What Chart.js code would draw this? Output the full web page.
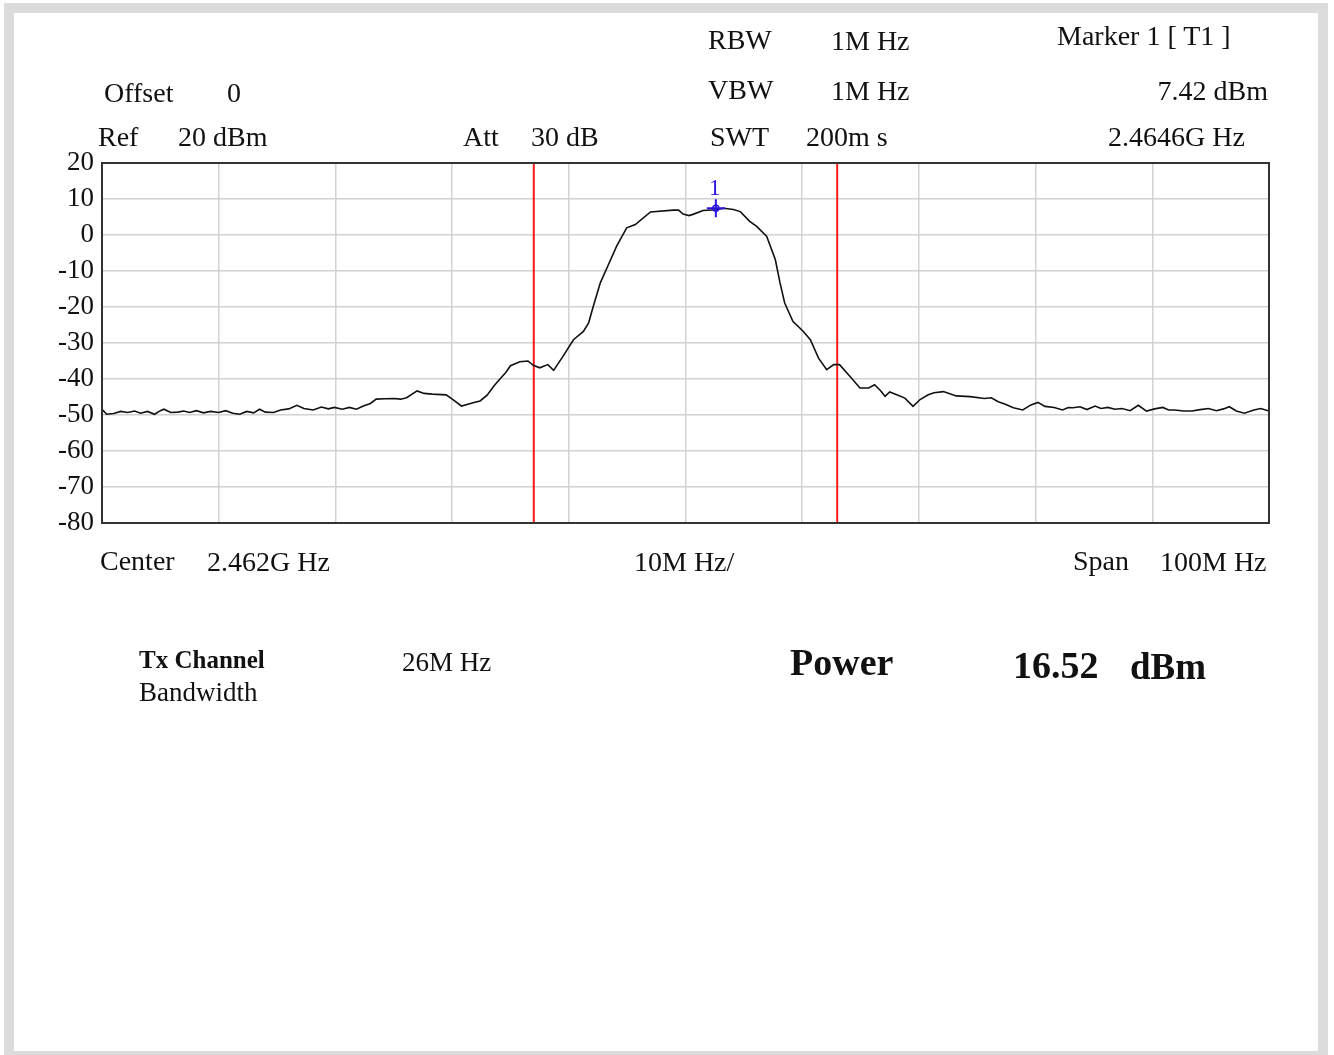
<!DOCTYPE html>
<html>
<head>
<meta charset="utf-8">
<script src="https://cdn.jsdelivr.net/npm/chart.js@4/dist/chart.umd.min.js"></script>
<style>
    html, body { margin: 0; padding: 0; background: #fff; }
    #page { position: relative; width: 1334px; height: 1055px; overflow: hidden; }
    #frame { position: absolute; left: 4px; top: 3px; width: 1304px; height: 1038px; border: 10px solid #dcdcdc; border-bottom-width: 12px; background: #fff; }
    #chartBox { position: absolute; left: 0; top: 0; width: 1334px; height: 1055px; }
    .t { position: absolute; font-family: "Liberation Serif", "Times New Roman", serif; font-size: 28px; color: #111; white-space: nowrap; line-height: 1; }
    .b { font-weight: bold; }
</style>
</head>
<body>
<div id="page">
    <div id="frame"></div>
    <div id="chartBox"><canvas id="spectrum" width="1334" height="1055"></canvas></div>

    <div class="t" style="left:104px; top:79px;">Offset</div>
    <div class="t" style="left:227px; top:79px;">0</div>
    <div class="t" style="left:98px; top:123px;">Ref</div>
    <div class="t" style="left:178px; top:123px;">20 dBm</div>
    <div class="t" style="left:463px; top:123px;">Att</div>
    <div class="t" style="left:531px; top:123px;">30 dB</div>
    <div class="t" style="left:708px; top:26px;">RBW</div>
    <div class="t" style="left:831px; top:27px;">1M Hz</div>
    <div class="t" style="left:708px; top:76px;">VBW</div>
    <div class="t" style="left:831px; top:77px;">1M Hz</div>
    <div class="t" style="left:710px; top:123px;">SWT</div>
    <div class="t" style="left:806px; top:123px;">200m s</div>
    <div class="t" style="left:1057px; top:22px;">Marker 1 [ T1 ]</div>
    <div class="t" style="right:66px; top:77px;">7.42 dBm</div>
    <div class="t" style="left:1108px; top:123px;">2.4646G Hz</div>

    <div class="t" style="left:100px; top:547px;">Center</div>
    <div class="t" style="left:207px; top:548px;">2.462G Hz</div>
    <div class="t" style="left:634px; top:548px;">10M Hz/</div>
    <div class="t" style="left:1073px; top:547px;">Span</div>
    <div class="t" style="left:1160px; top:548px;">100M Hz</div>

    <div class="t b" style="left:139px; top:647px; font-size:25px;">Tx Channel</div>
    <div class="t" style="left:139px; top:679px; font-size:27px;">Bandwidth</div>
    <div class="t" style="left:402px; top:649px; font-size:27px;">26M Hz</div>
    <div class="t b" style="left:790px; top:643px; font-size:38px;">Power</div>
    <div class="t b" style="left:1013px; top:646px; font-size:38px;">16.52</div>
    <div class="t b" style="left:1130px; top:648px; font-size:37px;">dBm</div>
</div>

<script>
// Sweep: center 2462 MHz, span 100 MHz
const freqMHz = [
    2412.0, 2412.4, 2413.0, 2413.6, 2414.2, 2414.8, 2415.3, 2415.9, 2416.5, 2417.0,
    2417.3, 2417.9, 2418.5, 2419.0, 2419.5, 2420.1, 2420.7, 2421.3, 2422.0, 2422.6,
    2423.2, 2423.8, 2424.4, 2425.0, 2425.5, 2426.0, 2426.7, 2427.3, 2428.0, 2428.7,
    2429.3, 2430.1, 2430.8, 2431.4, 2431.9, 2432.6, 2433.2, 2433.8, 2434.4, 2435.0,
    2435.5, 2436.2, 2437.0, 2437.6, 2438.1, 2439.0, 2439.6, 2440.3, 2441.5, 2442.1,
    2442.8, 2443.8, 2444.4, 2445.0, 2445.6, 2446.1, 2446.6, 2447.0, 2447.8, 2448.5,
    2448.96, 2449.5, 2450.2, 2450.7, 2451.5, 2452.4, 2453.25, 2453.7, 2454.1, 2454.7,
    2455.4, 2456.1, 2456.96, 2457.7, 2459.0, 2460.95, 2461.4, 2461.8, 2462.3, 2462.7,
    2463.5, 2464.6, 2465.3, 2466.1, 2466.7, 2467.5, 2468.1, 2468.96, 2469.7, 2470.1,
    2470.5, 2471.2, 2472.1, 2472.7, 2473.4, 2474.1, 2474.7, 2475.2, 2476.1, 2476.95,
    2477.7, 2478.2, 2478.7, 2479.1, 2479.5, 2480.1, 2480.8, 2481.5, 2482.1, 2482.8,
    2483.3, 2484.1, 2485.2, 2486.4, 2487.6, 2488.2, 2488.8, 2489.4, 2490.1, 2490.9,
    2491.6, 2492.2, 2492.8, 2493.6, 2494.3, 2494.8, 2495.2, 2495.8, 2496.4, 2497.1,
    2497.6, 2498.2, 2498.8, 2499.4, 2500.1, 2500.8, 2501.5, 2502.2, 2502.9, 2503.4,
    2503.9, 2504.7, 2505.4, 2506.1, 2506.8, 2507.5, 2508.1, 2508.6, 2509.2, 2509.9,
    2510.7, 2511.3, 2512.0
];
const levelDbm = [
    -48.4, -49.8, -49.6, -49.0, -49.3, -48.9, -49.5, -49.0, -49.8, -48.8,
    -48.4, -49.3, -49.2, -48.9, -49.3, -48.8, -49.4, -49.0, -49.3, -48.8,
    -49.5, -49.8, -49.0, -49.4, -48.4, -49.2, -49.3, -48.6, -48.3, -47.3,
    -48.2, -48.6, -47.8, -48.3, -47.9, -48.4, -47.9, -48.4, -47.5, -46.8,
    -45.6, -45.5, -45.4, -45.6, -45.2, -43.3, -44.0, -44.2, -44.4, -45.8,
    -47.5, -46.6, -46.1, -44.5, -41.9, -40.0, -38.2, -36.3, -35.2, -35.0,
    -36.2, -36.9, -36.0, -37.6, -33.7, -29.1, -26.8, -24.4, -19.8, -13.3,
    -8.2, -3.1, 2.0, 2.9, 6.4, 6.9, 6.9, 5.8, 5.4, 5.8,
    6.8, 7.0, 7.42, 7.1, 6.5, 3.8, 2.4, -0.4, -6.9, -13.3,
    -18.9, -24.0, -26.8, -29.1, -34.2, -37.4, -36.0, -36.0, -39.3, -42.5,
    -42.5, -41.6, -43.2, -44.8, -43.6, -44.4, -45.3, -47.6, -45.7, -44.4,
    -43.8, -43.5, -44.7, -44.9, -45.4, -45.2, -46.3, -47.0, -48.0, -48.6,
    -47.2, -46.5, -47.6, -47.9, -48.6, -47.9, -48.0, -47.7, -48.5, -47.5,
    -48.2, -47.9, -48.4, -48.2, -48.8, -47.3, -48.9, -48.3, -47.9, -48.6,
    -48.6, -48.9, -48.9, -48.5, -48.2, -48.8, -48.3, -47.7, -48.9, -49.5,
    -48.6, -48.2, -48.9
];
const channelEdgesMHz = [2449, 2475];
const markerFreqMHz = [2464.6];
const markerLevelDbm = [7.42];
const yTicks = [-80, -70, -60, -50, -40, -30, -20, -10, 0, 10, 20];

// fixed pixel box of the plot, as on the analyzer screen
const plotBox = { left: 102, top: 163, right: 1269, bottom: 523 };

const traceData = freqMHz.map((f, i) => ({ x: f, y: levelDbm[i] }));
const markerData = markerFreqMHz.map((f, i) => ({ x: f, y: markerLevelDbm[i] }));

const edgeSets = channelEdgesMHz.map(f => ({
    type: 'line',
    data: [{ x: f, y: yTicks[0] }, { x: f, y: yTicks[yTicks.length - 1] }],
    borderColor: '#ff1a1a',
    borderWidth: 2,
    pointRadius: 0,
    order: 3
}));

// frame around the plot and the "1" over the marker
const framePlugin = {
    id: 'frame',
    afterDatasetsDraw(chart) {
        const ctx = chart.ctx;
        const a = chart.chartArea;
        ctx.save();
        ctx.strokeStyle = '#333';
        ctx.lineWidth = 2;
        ctx.strokeRect(a.left, a.top, a.right - a.left, a.bottom - a.top);
        const xs = chart.scales.x, ys = chart.scales.y;
        ctx.fillStyle = '#2a14e0';
        ctx.font = '23px "Liberation Serif", serif';
        ctx.textAlign = 'center';
        ctx.textBaseline = 'bottom';
        markerData.forEach(p => {
            ctx.fillText('1', xs.getPixelForValue(p.x) - 1, ys.getPixelForValue(p.y) - 8);
        });
        ctx.restore();
    }
};

const ctx = document.getElementById('spectrum').getContext('2d');
new Chart(ctx, {
    type: 'line',
    data: {
        datasets: [
            {
                label: 'Trace',
                data: traceData,
                borderColor: '#111',
                borderWidth: 1.6,
                pointRadius: 0,
                tension: 0,
                order: 1
            },
            ...edgeSets,
            {
                type: 'scatter',
                label: 'Marker',
                data: markerData,
                pointStyle: 'cross',
                pointRadius: 9,
                borderColor: '#2a14e0',
                borderWidth: 2,
                order: 0
            },
            {
                type: 'scatter',
                label: 'MarkerDot',
                data: markerData,
                pointStyle: 'circle',
                pointRadius: 3,
                backgroundColor: 'rgba(0,0,0,0)',
                borderColor: '#2a14e0',
                borderWidth: 1.5,
                order: 0
            }
        ]
    },
    options: {
        responsive: false,
        animation: false,
        layout: {
            padding: { left: 0, top: plotBox.top, right: 1334 - plotBox.right, bottom: 1055 - plotBox.bottom }
        },
        plugins: {
            legend: { display: false },
            tooltip: { enabled: false }
        },
        scales: {
            x: {
                type: 'linear',
                min: freqMHz[0],
                max: freqMHz[freqMHz.length - 1],
                ticks: { display: false, stepSize: 10 },
                grid: { color: '#d2d2d2', lineWidth: 1.5, drawTicks: false },
                border: { display: false },
                afterFit(scale) { scale.height = 0; }
            },
            y: {
                min: yTicks[0],
                max: yTicks[yTicks.length - 1],
                afterBuildTicks(scale) { scale.ticks = yTicks.map(v => ({ value: v })); },
                ticks: {
                    color: '#111',
                    padding: 8,
                    font: { family: '"Liberation Serif", serif', size: 27 }
                },
                grid: { color: '#d2d2d2', lineWidth: 1.5, drawTicks: false },
                border: { display: false },
                afterFit(scale) { scale.width = plotBox.left; }
            }
        }
    },
    plugins: [framePlugin]
});
</script>
</body>
</html>
